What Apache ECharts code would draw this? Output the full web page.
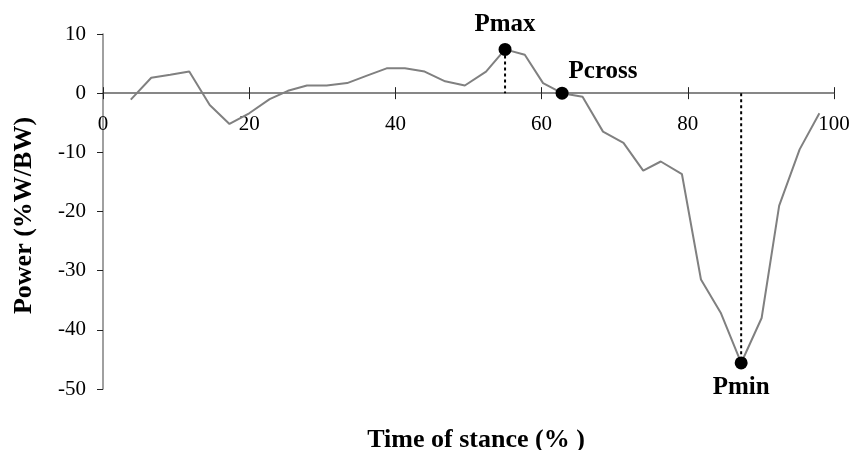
<!DOCTYPE html>
<html>
<head>
<meta charset="utf-8">
<script src="https://cdn.jsdelivr.net/npm/echarts@6/dist/echarts.min.js"></script>
<style>
  html, body { margin: 0; padding: 0; background: #fff; }
  #chart { width: 856px; height: 450px; }
</style>
</head>
<body>
<div id="chart"></div>
<script>
// Power curve over the stance phase
const stanceTime = [3.8, 6.6, 9.2, 11.8, 14.6, 17.3, 20.0, 22.8, 25.3, 27.9, 30.6, 33.4, 36.2,
  38.8, 41.3, 44.0, 46.8, 49.5, 52.4, 55.0, 57.7, 60.2, 62.8, 65.6, 68.4, 71.2, 73.9, 76.3,
  79.2, 81.8, 84.5, 87.3, 90.1, 92.5, 95.3, 98.0];
const powerValues = [-1.1, 2.6, 3.1, 3.65, -2.0, -5.2, -3.4, -1.0, 0.4, 1.3, 1.3, 1.7, 3.0,
  4.2, 4.2, 3.65, 2.0, 1.3, 3.65, 7.4, 6.5, 1.7, 0.0, -0.6, -6.5, -8.4, -13.1, -11.55,
  -13.7, -31.5, -37.1, -45.6, -38.0, -19.0, -9.5, -3.4];

// Key events on the curve
const eventNames = ['Pmax', 'Pcross', 'Pmin'];
const eventTime = [55.0, 62.8, 87.3];
const eventPower = [7.4, 0.0, -45.6];

const xTicks = { min: 0, max: 100, interval: 20 };
const yTicks = { min: -50, max: 10, interval: 10 };

const FONT = '"Liberation Serif", "Times New Roman", serif';
const W = 856, H = 450;
const GRID = { left: 103, right: 22, top: 34, bottom: 61 };

const curve = stanceTime.map((t, i) => [t, powerValues[i]]);

const labelPlacement = {
  Pmax: { position: 'top', distance: 6 },
  Pcross: { position: 'right', distance: 0, offset: [0, -22] },
  Pmin: { position: 'bottom', distance: 6 }
};
const events = eventNames.map((n, i) => ({
  name: n,
  value: [eventTime[i], eventPower[i]],
  label: labelPlacement[n]
}));

// vertical guides from Pmax and Pmin to the zero line
const dropLines = [
  [[eventTime[0], eventPower[0]], [eventTime[0], 0]],
  [[eventTime[2], 0], [eventTime[2], eventPower[2]]]
];

const chart = echarts.init(document.getElementById('chart'), null, { renderer: 'canvas' });

const tickLabel = { fontFamily: FONT, fontSize: 21, color: '#000' };
const axisGrey = { color: '#808080', width: 1.5 };
const tickStyle = { color: '#222', width: 1 };

chart.setOption({
  backgroundColor: '#fff',
  animation: false,
  title: {
    text: 'Time of stance (% )',
    left: 471, top: 422, textAlign: 'center',
    textStyle: { fontFamily: FONT, fontSize: 26, fontWeight: 'bold', color: '#000' }
  },
  grid: GRID,
  xAxis: [
    {
      // labelled axis, ticks below the line
      type: 'value', min: xTicks.min, max: xTicks.max, interval: xTicks.interval,
      position: 'bottom', offset: 0,
      axisLine: { onZero: false, lineStyle: axisGrey },
      axisTick: { show: true, length: 6, lineStyle: tickStyle },
      axisLabel: Object.assign({ margin: 21 }, tickLabel),
      splitLine: { show: false }
    },
    {
      // same scale, ticks above the line so they cross it
      type: 'value', min: xTicks.min, max: xTicks.max, interval: xTicks.interval,
      position: 'top', offset: 0,
      axisLine: { onZero: false, lineStyle: axisGrey },
      axisTick: { show: true, length: 6, lineStyle: tickStyle },
      axisLabel: { show: false },
      splitLine: { show: false }
    }
  ],
  yAxis: {
    type: 'value', min: yTicks.min, max: yTicks.max, interval: yTicks.interval,
    position: 'left',
    axisLine: { show: true, onZero: false, lineStyle: axisGrey },
    axisTick: { show: true, length: 6, lineStyle: tickStyle },
    axisLabel: Object.assign({ margin: 17 }, tickLabel),
    splitLine: { show: false },
    name: 'Power (%W/BW)',
    nameLocation: 'middle',
    nameGap: 66,
    nameTextStyle: {
      fontFamily: FONT, fontSize: 26, fontWeight: 'bold', color: '#000',
      padding: [0, 8, 0, 0]
    }
  },
  series: [
    {
      type: 'line', data: curve, symbol: 'none',
      lineStyle: { color: '#808080', width: 2 }, z: 2
    },
    ...dropLines.map(seg => ({
      type: 'line', data: seg, symbol: 'none',
      lineStyle: { color: '#000', width: 2, type: [3, 3] }, z: 1
    })),
    {
      type: 'scatter', data: events, symbol: 'circle', symbolSize: 13,
      itemStyle: { color: '#000', opacity: 1 }, z: 3,
      label: {
        show: true,
        formatter: p => p.name,
        fontFamily: FONT, fontSize: 25, fontWeight: 'bold', color: '#000'
      }
    }
  ]
});

// move both x axes onto the y = 0 line (labels travel with the line)
const zeroY = chart.convertToPixel({ yAxisIndex: 0 }, 0);
chart.setOption({
  xAxis: [
    { offset: zeroY - (H - GRID.bottom) },
    { offset: GRID.top - zeroY }
  ]
});
</script>
</body>
</html>
